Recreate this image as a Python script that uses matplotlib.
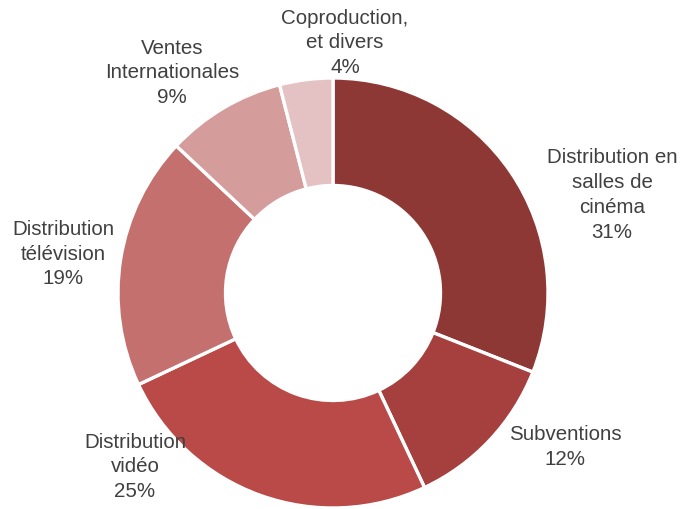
import matplotlib
matplotlib.use('Agg')
import matplotlib.pyplot as plt

categories = ['Distribution en\nsalles de\ncinéma', 'Subventions', 'Distribution\nvidéo',
              'Distribution\ntélévision', 'Ventes\nInternationales', 'Coproduction,\net divers']
values = [31, 12, 25, 19, 9, 4]
colors = ['#8e3836', '#a6403e', '#b94a48', '#c4706f', '#d59c9c', '#e4c1c3']

# label centres in pixels (x from left, y from top)
label_pos = [(612, 195), (565, 447), (135, 467), (63, 254), (172, 73), (345, 43)]

W, H = 682, 509
cx, cy, R = 333, 293, 215

plt.rcParams['font.family'] = ['Liberation Sans', 'DejaVu Sans']
fig = plt.figure(figsize=(W / 100, H / 100), dpi=100)
ax = fig.add_axes([0, 0, 1, 1])
ax.pie(values, colors=colors, startangle=90, counterclock=False, radius=1,
       wedgeprops=dict(width=0.5, edgecolor='white', linewidth=2.4))
ax.set_xlim(-cx / R, (W - cx) / R)
ax.set_ylim(-(H - cy) / R, cy / R)
ax.set_aspect('equal')
ax.axis('off')

for cat, v, (px, py) in zip(categories, values, label_pos):
    ax.text((px - cx) / R, (cy - py) / R, f'{cat}\n{v}%', ha='center', va='center',
            fontsize=14.8, color='#404040', linespacing=1.38)

fig.savefig('out.png', dpi=100, facecolor='white')
